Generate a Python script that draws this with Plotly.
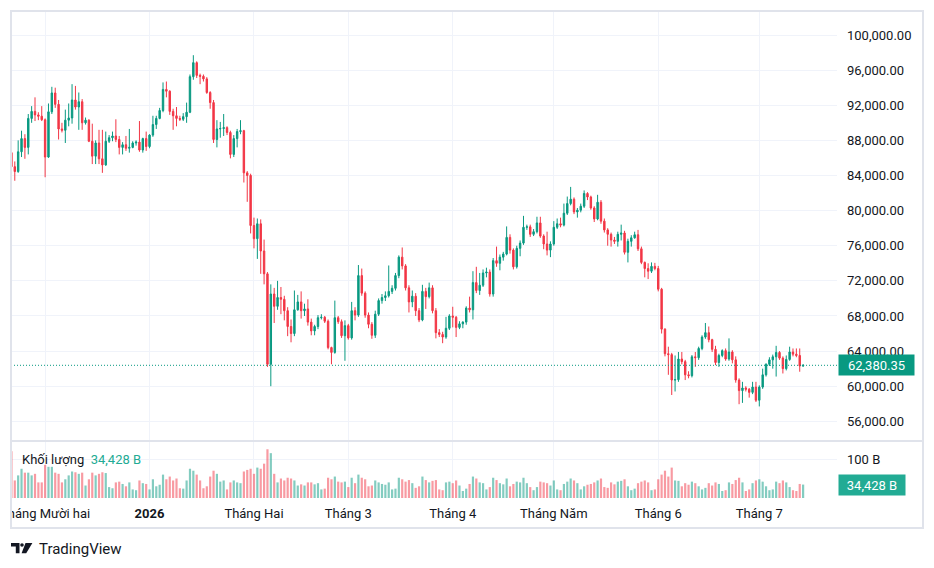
import plotly.graph_objects as go
import pandas as pd

# ---------------- data (BTC daily, prices in thousands USD, volume in B) ----------------
START_DATE = "2025-11-21"
FIRST_OPEN_K = 86.6

close_k = [
    # Nov 21-30
    85.0, 84.45, 86.7, 88.2, 87.2, 90.5, 91.3, 90.9, 90.75, 90.35,
    # Dec
    86.1, 91.25, 93.4, 92.1, 89.3, 89.15, 90.3, 90.55, 92.6, 91.8, 92.4, 90.0, 90.3, 87.9, 86.2, 87.7,
    85.9, 85.2, 87.9, 88.3, 88.5, 88.1, 87.2, 87.5, 87.1, 87.2, 87.7, 87.8, 86.9, 88.2, 87.3,
    # Jan
    88.6, 89.8, 90.5, 91.4, 93.8, 93.6, 91.3, 90.8, 90.5, 90.4, 90.7, 91.2, 95.25, 96.85, 95.4, 95.3,
    95.0, 93.45, 92.3, 88.1, 89.3, 89.35, 89.45, 88.9, 86.4, 88.2, 89.0, 89.1, 84.3, 84.0, 78.3,
    # Feb
    76.8, 78.5, 75.4, 72.8, 62.5, 70.5, 69.1, 70.1, 69.9, 68.6, 66.8, 66.0, 68.7, 69.6, 68.6, 68.8,
    67.3, 66.3, 66.8, 67.8, 67.85, 67.4, 64.4, 63.85, 67.8, 67.35, 65.75, 66.9,
    # Mar
    65.5, 68.6, 68.1, 72.6, 70.6, 68.1, 67.05, 65.8, 68.2, 69.75, 70.1, 70.3, 70.8, 71.15, 72.6, 74.7,
    73.7, 71.2, 69.6, 70.25, 68.6, 67.55, 70.8, 70.2, 71.2, 68.6, 66.1, 65.9, 65.6, 66.6, 68.0,
    # Apr
    67.85, 66.7, 67.1, 67.3, 68.9, 68.7, 71.8, 70.9, 71.5, 72.9, 73.0, 70.5, 74.3, 74.0, 74.7, 75.05,
    76.95, 75.5, 73.6, 75.7, 76.3, 78.1, 78.15, 77.3, 77.6, 78.6, 77.1, 76.2, 75.5, 76.2,
    # May
    78.1, 78.5, 78.35, 79.7, 80.8, 81.3, 79.85, 80.05, 80.5, 81.95, 81.55, 80.3, 79.05, 80.95, 78.8, 77.8,
    77.3, 76.65, 76.5, 77.3, 77.45, 75.25, 76.5, 76.9, 77.25, 75.65, 74.1, 73.4, 73.1, 73.65, 73.4,
    # Jun
    71.05, 66.5, 63.7, 63.6, 60.7, 60.75, 63.1, 62.8, 61.3, 61.2, 63.35, 63.25, 64.3, 65.6, 66.1, 65.3,
    64.2, 62.7, 63.5, 64.05, 63.1, 63.9, 63.0, 60.7, 59.5, 59.8, 59.65, 59.3, 59.9, 58.4,
    # Jul 1-14
    59.9, 61.3, 62.5, 63.0, 63.35, 63.85, 63.2, 62.0, 63.05, 63.9, 63.65, 63.5, 62.3, 62.38035,
]

high_k = [
    87.2, 85.6, 88.0, 89.1, 88.7, 91.0, 91.9, 92.9, 91.2, 91.9,
    90.5, 92.2, 94.1, 94.0, 92.6, 90.0, 91.5, 92.2, 94.4, 94.2, 93.45, 92.7, 90.6, 90.4, 89.9, 88.0,
    89.2, 89.2, 89.0, 88.6, 89.0, 90.4, 88.5, 87.8, 88.5, 89.3, 87.9, 88.0, 90.2, 88.3, 89.0,
    88.7, 90.8, 90.8, 91.7, 94.6, 94.7, 93.7, 91.6, 91.8, 90.8, 91.1, 92.3, 95.5, 97.7, 97.0, 95.6,
    95.5, 95.2, 93.6, 92.6, 90.3, 90.1, 91.0, 89.6, 89.1, 88.6, 89.3, 90.3, 89.2, 84.5, 84.2,
    79.2, 79.1, 79.0, 76.7, 73.0, 71.6, 71.2, 72.0, 71.3, 70.3, 69.0, 67.6, 70.9, 70.4, 70.8, 69.4,
    69.9, 67.7, 67.0, 68.1, 68.2, 68.0, 67.6, 64.5, 69.75, 68.0, 67.6, 67.5,
    67.1, 69.6, 69.0, 73.8, 73.4, 70.8, 68.4, 67.3, 68.6, 70.0, 70.5, 70.8, 73.75, 71.5, 72.9, 74.9,
    75.8, 73.9, 71.5, 70.9, 70.6, 68.9, 71.55, 71.2, 71.8, 71.5, 68.9, 66.5, 66.2, 67.9, 68.2,
    69.05, 68.0, 67.4, 67.4, 69.1, 70.2, 73.1, 73.6, 72.9, 73.3, 73.5, 73.3, 74.6, 75.9, 75.0, 75.3,
    78.2, 77.3, 75.7, 76.0, 76.6, 79.4, 78.4, 78.4, 77.9, 79.3, 79.3, 77.3, 77.6, 76.5,
    78.8, 79.1, 79.2, 80.8, 81.6, 82.7, 81.5, 80.3, 80.8, 82.3, 82.1, 81.7, 80.5, 81.8, 81.2, 79.1,
    78.0, 77.5, 77.0, 77.6, 78.4, 77.7, 76.8, 77.2, 77.6, 77.8, 75.9, 74.2, 74.0, 74.1, 74.05,
    73.7, 71.2, 66.6, 64.5, 63.8, 63.5, 63.9, 63.9, 63.0, 61.7, 63.55, 63.9, 64.5, 65.8, 67.2, 66.8,
    65.4, 64.6, 63.7, 64.2, 64.3, 65.45, 64.1, 63.4, 60.9, 60.5, 60.0, 59.8, 60.5, 60.5,
    60.1, 62.0, 62.6, 63.3, 63.6, 64.6, 64.0, 63.4, 63.5, 64.5, 64.3, 64.3, 64.3, 62.5,
]

low_k = [
    80.5, 83.4, 84.3, 86.1, 85.9, 86.4, 90.0, 90.2, 90.3, 90.2,
    83.8, 86.0, 91.0, 91.7, 88.1, 88.9, 87.7, 89.6, 89.9, 91.5, 89.2, 89.2, 89.8, 87.8, 85.3, 85.3,
    85.3, 84.3, 85.1, 87.7, 87.9, 87.8, 86.4, 86.4, 86.8, 86.6, 87.1, 87.4, 86.7, 86.6, 86.8,
    87.1, 88.4, 89.3, 90.4, 91.2, 92.9, 90.9, 89.2, 89.6, 90.2, 90.2, 90.0, 91.1, 94.9, 95.1, 94.4,
    94.7, 93.3, 91.6, 87.7, 87.2, 88.3, 88.5, 88.6, 85.95, 86.1, 87.2, 88.7, 83.2, 81.0, 77.4,
    75.7, 74.5, 72.8, 71.6, 62.2, 60.0, 67.2, 68.7, 68.2, 67.5, 65.7, 65.0, 65.7, 68.6, 67.7, 68.0,
    66.9, 65.8, 65.8, 66.5, 67.6, 67.2, 64.2, 62.5, 63.7, 67.1, 65.5, 62.9,
    65.3, 65.3, 67.5, 67.9, 70.3, 67.8, 66.6, 65.4, 65.5, 68.0, 69.4, 69.7, 70.1, 70.5, 70.9, 72.3,
    73.3, 70.9, 68.4, 69.0, 68.0, 67.3, 67.4, 68.8, 70.0, 68.3, 65.45, 65.6, 64.9, 65.4, 66.4,
    66.7, 65.6, 66.5, 66.6, 67.0, 68.4, 67.6, 70.6, 70.4, 71.3, 72.4, 70.2, 70.2, 73.6, 73.2, 74.3,
    74.9, 75.1, 73.3, 73.4, 74.8, 76.1, 77.8, 77.0, 77.1, 77.4, 76.9, 75.6, 74.9, 74.7,
    76.0, 77.9, 78.1, 78.2, 79.5, 80.6, 79.6, 79.2, 79.8, 80.3, 81.2, 80.1, 78.7, 78.9, 78.5, 77.5,
    76.0, 75.9, 76.2, 75.9, 76.6, 75.0, 74.1, 75.9, 76.8, 75.4, 73.9, 72.4, 72.2, 72.9, 73.2,
    70.8, 66.0, 63.4, 61.3, 59.0, 59.4, 60.5, 62.5, 60.7, 60.9, 61.0, 62.2, 63.0, 64.1, 65.4, 65.0,
    63.9, 62.4, 62.2, 63.3, 62.9, 62.9, 62.6, 60.4, 57.95, 58.1, 59.4, 58.7, 59.1, 58.2,
    57.7, 59.7, 61.1, 62.3, 62.0, 61.1, 63.0, 61.45, 61.8, 62.9, 63.4, 63.3, 61.65, 62.2,
]

volume_b = [
    120, 45, 58, 75, 65, 65, 58, 62, 40, 40,
    85, 80, 80, 65, 62, 40, 48, 58, 68, 66, 62, 65, 32, 48, 65, 58,
    62, 66, 64, 28, 25, 40, 42, 36, 30, 40, 22, 20, 45, 38, 36,
    22, 48, 30, 34, 60, 48, 55, 45, 50, 25, 24, 45, 75, 70, 60, 45,
    25, 30, 55, 70, 62, 42, 45, 22, 40, 45, 40, 38, 68, 72, 75,
    62, 78, 75, 88, 125, 115, 62, 40, 50, 45, 52, 50, 45, 32, 35, 32,
    40, 40, 35, 38, 22, 24, 52, 48, 55, 42, 40, 42,
    28, 52, 38, 60, 52, 48, 30, 32, 45, 40, 36, 34, 40, 22, 24, 52,
    48, 42, 46, 38, 26, 30, 55, 46, 40, 44, 46, 22, 20, 40, 42,
    38, 45, 32, 18, 24, 36, 55, 50, 40, 38, 22, 28, 52, 46, 38, 35,
    50, 30, 36, 42, 40, 52, 38, 28, 20, 28, 42, 40, 38, 32,
    45, 22, 20, 36, 42, 50, 45, 38, 22, 30, 34, 36, 40, 45, 50, 28,
    26, 40, 35, 42, 44, 48, 30, 20, 24, 38, 42, 45, 40, 20, 22,
    48, 60, 70, 55, 78, 45, 44, 30, 38, 34, 42, 38, 30, 22, 26, 38,
    32, 40, 36, 18, 20, 40, 36, 46, 52, 40, 18, 22, 38, 45,
    48, 42, 30, 20, 22, 42, 38, 45, 40, 28, 20, 18, 36, 34.428,
]

price_tickvals = [56, 60, 64, 68, 72, 76, 80, 84, 88, 92, 96, 100]
price_ticktext = ["56,000.00", "60,000.00", "64,000.00", "68,000.00", "72,000.00", "76,000.00",
                  "80,000.00", "84,000.00", "88,000.00", "92,000.00", "96,000.00", "100,000.00"]
volume_tickvals = [100]
volume_ticktext = ["100 B"]
month_tickvals = ["2025-12-01", "2026-01-01", "2026-02-01", "2026-03-01",
                  "2026-04-01", "2026-05-01", "2026-06-01", "2026-07-01"]
month_ticktext = ["Tháng Mười hai", "<b>2026</b>", "Tháng Hai", "Tháng 3",
                  "Tháng 4", "Tháng Năm", "Tháng 6", "Tháng 7"]
last_price_k = 62.38035
last_price_text = "62,380.35"
last_volume_b = 34.428
last_volume_text = "34,428 B"
volume_title = "Khối lượng"

# ---------------- derived ----------------
n = len(close_k)
assert len(high_k) == n and len(low_k) == n and len(volume_b) == n, (n, len(high_k), len(low_k), len(volume_b))
dates = pd.date_range(START_DATE, periods=n, freq="D")
open_k = [FIRST_OPEN_K] + close_k[:-1]

UP = "#089981"
DOWN = "#F23645"
UP_VOL = "rgba(8,153,129,0.5)"
DOWN_VOL = "rgba(242,54,69,0.5)"
TEXT = "#131722"
GRID = "#F0F3FA"
BORDER = "#E0E3EB"
FONT = "Roboto, sans-serif"

vol_colors = [UP_VOL if c >= o else DOWN_VOL for o, c in zip(open_k, close_k)]

# ---------------- geometry ----------------
W, H = 934, 568
ML, MR, MT, MB = 11, 97, 11, 70
PW, PH = W - ML - MR, H - MT - MB
VOL_FRAC = 57 / PH


def px(x):
    return (x - ML) / PW


def py(y):
    return (H - MB - y) / PH


fig = go.Figure()
fig.add_trace(go.Candlestick(
    x=dates, open=open_k, high=high_k, low=low_k, close=close_k,
    increasing=dict(line=dict(color=UP, width=1), fillcolor=UP),
    decreasing=dict(line=dict(color=DOWN, width=1), fillcolor=DOWN),
    whiskerwidth=0, xaxis="x", yaxis="y", hoverinfo="skip",
))
fig.add_trace(go.Bar(
    x=dates, y=volume_b, marker=dict(color=vol_colors, line=dict(width=0)),
    xaxis="x", yaxis="y2", hoverinfo="skip",
))

shapes = [
    dict(type="line", xref="paper", yref="y", x0=0, x1=1, y0=last_price_k, y1=last_price_k,
         line=dict(color=UP, width=1, dash="1px,2px")),
    # white mask so the first month label looks clipped at the frame
    dict(type="rect", xref="paper", yref="paper", x0=px(-5), x1=px(10), y0=py(527), y1=py(499),
         fillcolor="white", line=dict(width=0), layer="above"),
    # frame
    dict(type="rect", xref="paper", yref="paper", x0=px(11), x1=px(923), y0=py(528), y1=py(11),
         line=dict(color=BORDER, width=2), fillcolor="rgba(0,0,0,0)", layer="above"),
    dict(type="line", xref="paper", yref="paper", x0=px(11), x1=px(923), y0=VOL_FRAC, y1=VOL_FRAC,
         line=dict(color=BORDER, width=2), layer="above"),
    # TradingView logo mark
    dict(type="path", xref="paper", yref="paper", layer="above", fillcolor=TEXT, line=dict(width=0),
         path=f"M {px(11)},{py(543)} L {px(19.5)},{py(543)} L {px(19.5)},{py(553.3)} L {px(15.8)},{py(553.3)} "
              f"L {px(15.8)},{py(546.6)} L {px(11)},{py(546.6)} Z"),
    dict(type="circle", xref="paper", yref="paper", layer="above", fillcolor=TEXT, line=dict(width=0),
         x0=px(20.2), x1=px(23.8), y0=py(546.8), y1=py(543.2)),
    dict(type="path", xref="paper", yref="paper", layer="above", fillcolor=TEXT, line=dict(width=0),
         path=f"M {px(25.5)},{py(543)} L {px(32.4)},{py(543)} L {px(26.2)},{py(553.3)} L {px(21.6)},{py(553.3)} Z"),
]

annotations = [
    dict(xref="paper", yref="y", x=1, y=last_price_k, xanchor="left", yanchor="middle", xshift=1,
         text=last_price_text, showarrow=False, bgcolor=UP, width=73, height=18, align="center",
         font=dict(family=FONT, size=13, color="white")),
    dict(xref="paper", yref="y2", x=1, y=last_volume_b, xanchor="left", yanchor="middle", xshift=1,
         text=last_volume_text, showarrow=False, bgcolor="#22AB94", width=64, height=18, align="center",
         font=dict(family=FONT, size=13, color="white")),
    dict(xref="paper", yref="paper", x=px(20), y=py(459), xanchor="left", yanchor="middle",
         text=f"{volume_title}  <span style='color:#22AB94'>{last_volume_text}</span>",
         showarrow=False, font=dict(family=FONT, size=13, color=TEXT)),
    dict(xref="paper", yref="paper", x=px(37), y=py(549), xanchor="left", yanchor="middle",
         text="TradingView", showarrow=False, font=dict(family=FONT, size=15, color=TEXT)),
]

fig.update_layout(
    template="none",
    width=W, height=H,
    margin=dict(l=ML, r=MR, t=MT, b=MB, pad=0),
    paper_bgcolor="white", plot_bgcolor="white",
    showlegend=False,
    boxgap=0.4, bargap=0.35,
    font=dict(family=FONT, size=13, color=TEXT),
    xaxis=dict(
        type="date", anchor="y2",
        range=["2025-11-20 21:00", "2026-07-24 01:30"],
        rangeslider=dict(visible=False),
        tickvals=month_tickvals, ticktext=month_ticktext,
        showgrid=True, gridcolor=GRID, gridwidth=1,
        showline=False, zeroline=False, ticks="",
        ticklabelstandoff=6, ticklabeloverflow="allow",
        tickfont=dict(family=FONT, size=13, color=TEXT),
        automargin=False,
    ),
    yaxis=dict(
        domain=[VOL_FRAC, 1], anchor="x", side="right",
        range=[53.76, 102.733],
        tickvals=price_tickvals, ticktext=price_ticktext,
        showgrid=True, gridcolor=GRID, gridwidth=1,
        showline=False, zeroline=False, ticks="",
        ticklabelstandoff=9,
        tickfont=dict(family=FONT, size=13, color=TEXT),
        automargin=False,
    ),
    yaxis2=dict(
        domain=[0, VOL_FRAC], anchor="x", side="right",
        range=[0, 146.2],
        tickvals=volume_tickvals, ticktext=volume_ticktext,
        showgrid=True, gridcolor=GRID, gridwidth=1,
        showline=False, zeroline=False, ticks="",
        ticklabelstandoff=9,
        tickfont=dict(family=FONT, size=13, color=TEXT),
        automargin=False,
    ),
    shapes=shapes,
    annotations=annotations,
)

fig.write_html("out.html")
